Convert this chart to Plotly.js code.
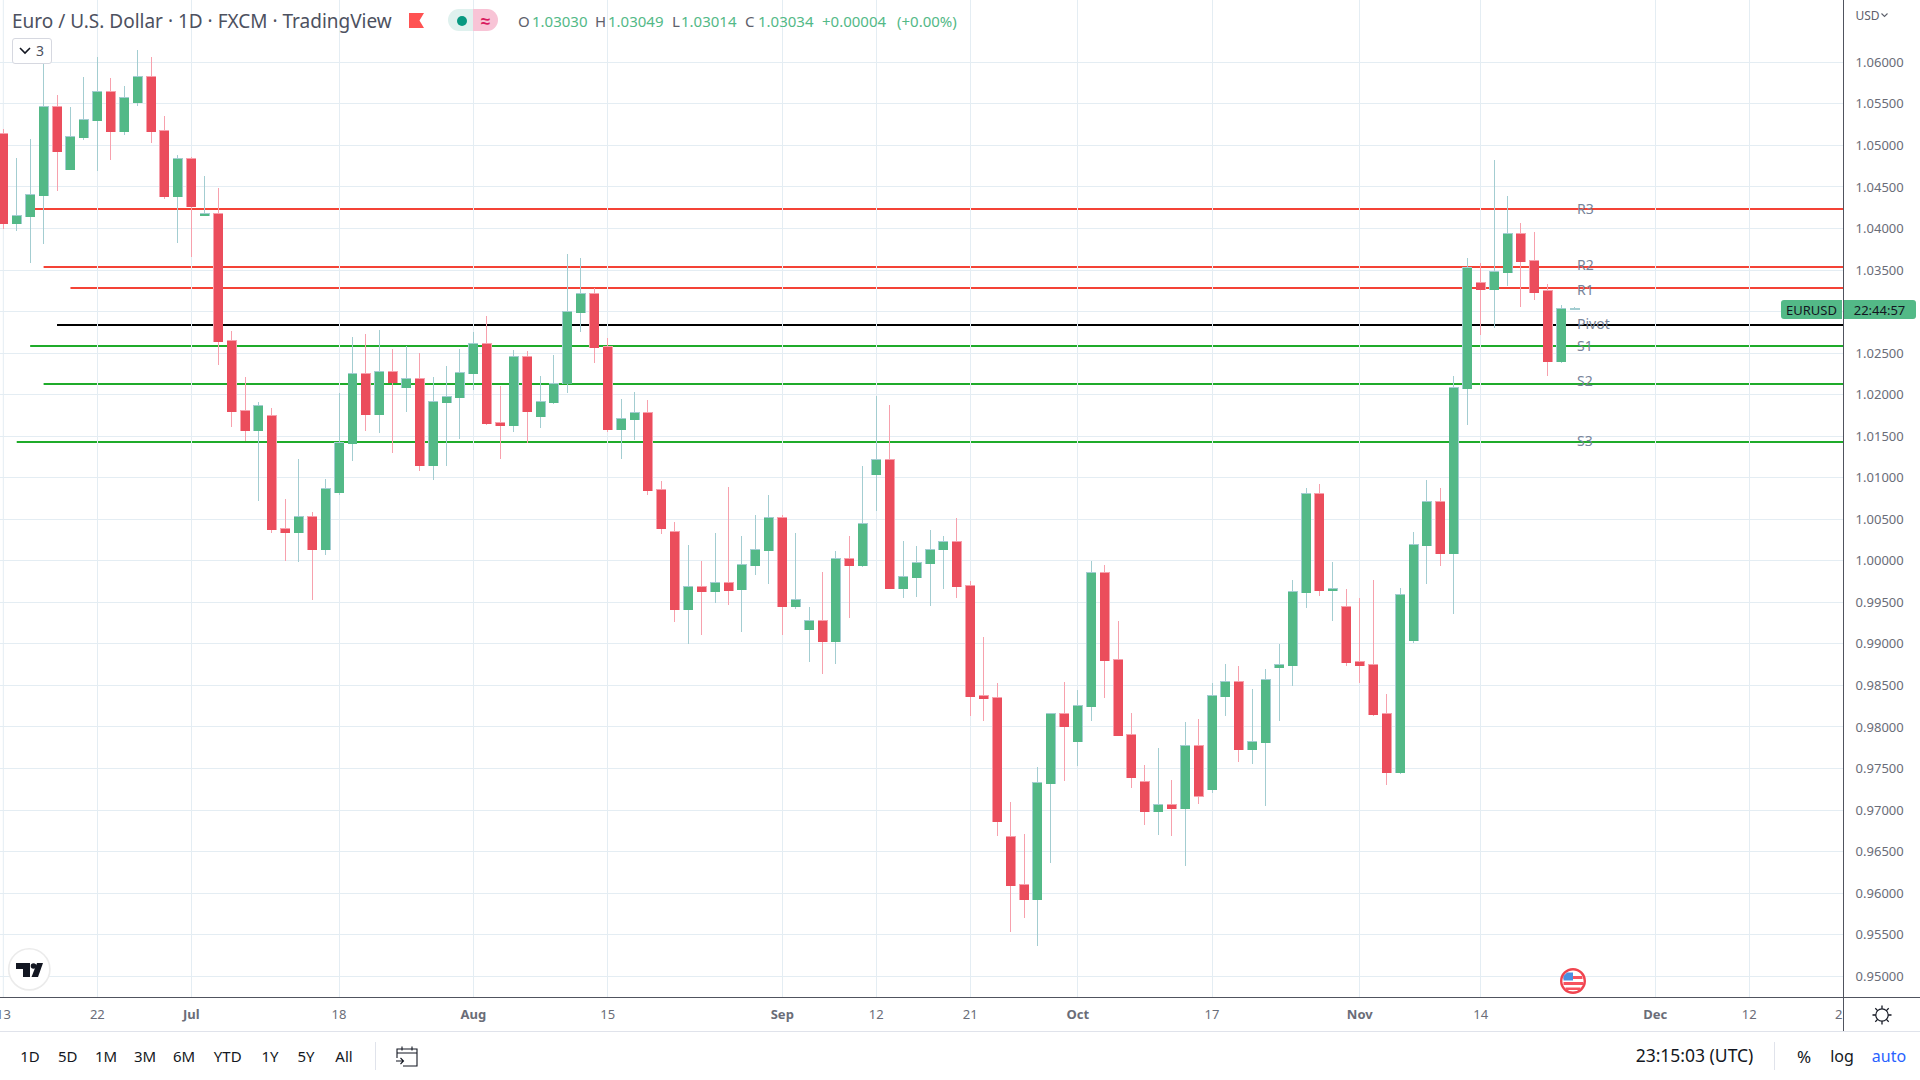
<!DOCTYPE html>
<html>
<head>
<meta charset="utf-8">
<title>EURUSD</title>
<script src="https://cdn.plot.ly/plotly-3.0.1.min.js"></script>
<style>
html,body{margin:0;padding:0;background:#fff;width:1920px;height:1080px;overflow:hidden}
#chart{position:absolute;left:0;top:0;width:1920px;height:1080px}
#chrome{position:absolute;left:0;top:0;width:1920px;height:1080px;pointer-events:none;font-family:"Noto Sans",sans-serif;color:#131722}
#chrome .t{position:absolute;white-space:nowrap;line-height:1;transform:translate(-50%,-50%)}
#chrome .l{position:absolute;white-space:nowrap;line-height:1;transform:translateY(-50%)}
#chrome .b{position:absolute}
#chrome svg{display:block}
.trace.boxes path{shape-rendering:crispEdges}
</style>
</head>
<body>
<div id="chart"></div>
<div id="chrome"></div>
<script>
// Daily EUR/USD candles
const opens = [1.05138,1.04055,1.04139,1.04392,1.05463,1.04705,1.05090,1.05294,1.05643,1.05162,1.05511,1.05824,1.05174,1.04380,1.04837,1.04151,1.04175,1.02647,1.01805,1.01564,1.01744,1.00385,1.00337,1.00529,1.00132,1.00818,1.01408,1.02250,1.01757,1.02274,1.02081,1.02189,1.01143,1.01901,1.01961,1.02250,1.02611,1.01660,1.01624,1.02454,1.01732,1.01901,1.02129,1.02984,1.03213,1.02574,1.01576,1.01696,1.01781,1.00854,1.00349,0.99411,0.99687,0.99627,0.99735,0.99651,0.99940,1.00120,1.00517,0.99447,0.99170,0.99278,0.99026,1.00024,0.99940,1.01035,1.01215,0.99663,0.99796,0.99964,1.00132,1.00229,0.99699,0.98376,0.98352,0.96679,0.96101,0.95921,0.97317,0.98160,0.97823,0.98244,0.99856,0.98809,0.97907,0.97341,0.96980,0.97064,0.97016,0.97775,0.97245,0.98364,0.98544,0.97726,0.97811,0.98712,0.98737,0.99615,1.00806,0.99639,0.99447,0.98785,0.98749,0.98160,0.97450,0.99038,1.00181,1.00710,1.00084,1.02069,1.03345,1.03261,1.03465,1.03935,1.03610,1.03249,1.02394,1.03030];
const highs = [1.05198,1.04849,1.05078,1.06088,1.05607,1.05463,1.05824,1.06064,1.05812,1.05715,1.06148,1.06064,1.05354,1.04885,1.04861,1.04632,1.04488,1.02767,1.02214,1.01913,1.01841,1.00746,1.01227,1.00590,1.00986,1.02021,1.02695,1.02731,1.02779,1.02550,1.02587,1.02502,1.02214,1.02346,1.02550,1.02755,1.02947,1.02105,1.02538,1.02526,1.02226,1.02478,1.03694,1.03646,1.03285,1.02683,1.01949,1.02033,1.01937,1.00962,1.00469,1.00193,1.00000,1.00337,1.00890,1.00301,1.00553,1.00794,1.00553,1.00337,0.99447,0.99868,1.00120,1.00301,1.01143,1.01985,1.01877,1.00241,1.00181,1.00373,1.00301,1.00517,0.99759,0.99086,0.98532,0.97100,0.96715,0.97522,0.98160,0.98544,0.98449,1.00000,0.99952,0.99278,0.98172,0.97546,0.97750,0.97365,0.98063,0.98099,0.98532,0.98761,0.98737,0.98460,0.98700,0.99002,0.99771,1.00878,1.00926,0.99988,0.99663,0.99555,0.99771,0.98400,0.99675,1.00349,1.00974,1.00878,1.02226,1.03646,1.03586,1.04825,1.04392,1.04067,1.03959,1.03333,1.03080,1.03049];
const lows = [1.03995,1.03971,1.03586,1.03815,1.04452,1.04705,1.05066,1.04693,1.04825,1.05126,1.05475,1.05030,1.04356,1.03827,1.03658,1.04151,1.02358,1.01612,1.01444,1.00722,1.00337,1.00000,0.99988,0.99531,1.00072,1.00794,1.01203,1.01564,1.01540,1.01299,1.01793,1.01083,1.00974,1.01143,1.01468,1.02057,1.01636,1.01227,1.01552,1.01420,1.01600,1.01889,1.02021,1.02755,1.02382,1.01552,1.01227,1.01456,1.00794,1.00325,0.99266,0.99002,0.99110,0.99495,0.99471,0.99146,0.99832,0.99723,0.99110,0.99423,0.98785,0.98640,0.98761,0.99314,0.99928,1.00602,0.99663,0.99555,0.99567,0.99459,0.99663,0.99555,0.98135,0.98075,0.96691,0.95536,0.95704,0.95368,0.96366,0.97353,0.97534,0.98075,0.98352,0.97895,0.97268,0.96823,0.96703,0.96691,0.96330,0.97076,0.97209,0.98135,0.97582,0.97558,0.97052,0.98075,0.98496,0.99435,0.99579,0.99278,0.98737,0.98532,0.98135,0.97305,0.97438,0.99014,0.99723,0.99940,0.99363,1.01636,1.02719,1.02803,1.03309,1.03056,1.03140,1.02226,1.02382,1.03014];
const closes = [1.04055,1.04151,1.04404,1.05463,1.04921,1.05102,1.05306,1.05643,1.05162,1.05571,1.05824,1.05162,1.04380,1.04837,1.04260,1.04175,1.02635,1.01793,1.01564,1.01865,1.00373,1.00337,1.00529,1.00132,1.00866,1.01420,1.02250,1.01757,1.02274,1.02141,1.02189,1.01143,1.01913,1.01973,1.02262,1.02611,1.01648,1.01624,1.02454,1.01793,1.01913,1.02129,1.02996,1.03213,1.02562,1.01576,1.01708,1.01781,1.00842,1.00385,0.99411,0.99687,0.99627,0.99735,0.99639,0.99952,1.00132,1.00517,0.99447,0.99531,0.99278,0.99026,1.00024,0.99940,1.00445,1.01215,0.99663,0.99808,0.99976,1.00132,1.00229,0.99687,0.98364,0.98340,0.96859,0.96089,0.95921,0.97329,0.98160,0.98003,0.98256,0.99856,0.98797,0.97895,0.97389,0.96980,0.97064,0.97016,0.97775,0.97167,0.98376,0.98544,0.97726,0.97823,0.98568,0.98749,0.99627,1.00806,0.99639,0.99663,0.98773,0.98737,0.98147,0.97450,0.99591,1.00193,1.00710,1.00084,1.02081,1.03525,1.03261,1.03477,1.03935,1.03598,1.03225,1.02394,1.03032,1.03034];

// Pivot levels
const levelNames = ["R3","R2","R1","Pivot","S1","S2","S3"];
const levelValues = [1.04235,1.03537,1.03284,1.02839,1.02586,1.02129,1.01431];
const levelStarts = [2,3,5,4,2,3,1];
const levelColors = ["#f44336","#f44336","#f44336","#000000","#1fab2a","#1fab2a","#1fab2a"];
const labelValues = [1.04235,1.03570,1.03270,1.02860,1.02595,1.02170,1.01450];

// Axes
const timeTickVals = [7,14,25,35,45,58,65,72,80,90,101,110,123,130];
const timeTickText = ["22","<b>Jul</b>","18","<b>Aug</b>","15","<b>Sep</b>","12","21","<b>Oct</b>","17","<b>Nov</b>","14","<b>Dec</b>","12"];
const priceTicks = [0.95,0.955,0.96,0.965,0.97,0.975,0.98,0.985,0.99,0.995,1.0,1.005,1.01,1.015,1.02,1.025,1.03,1.035,1.04,1.045,1.05,1.055,1.06];
const gridDays = [0];
const xRange = [-0.246,136.98];
const yRange = [0.9475,1.0675];

// Toolbar text
const rangeButtons = ["1D","5D","1M","3M","6M","YTD","1Y","5Y","All"];
const rangeButtonX = [30,67.7,106,145,184,227.7,270,306,344];

const FONT = '"Noto Sans",sans-serif';
const idx = opens.map((_, i) => i);
const bodyTop = opens.map((o, i) => Math.max(o, closes[i]));
const bodyBot = opens.map((o, i) => Math.min(o, closes[i]));

const wicks = {
  type:'candlestick', x:idx, open:opens, high:highs, low:lows, close:closes,
  increasing:{line:{color:'#a3cdd1',width:1},fillcolor:'#a3cdd1'},
  decreasing:{line:{color:'#f7a1ad',width:1},fillcolor:'#f7a1ad'},
  whiskerwidth:0, hoverinfo:'skip', showlegend:false
};
const bodies = {
  type:'candlestick', x:idx, open:opens, high:bodyTop, low:bodyBot, close:closes,
  increasing:{line:{color:'#53b987',width:0},fillcolor:'#53b987'},
  decreasing:{line:{color:'#eb4d5c',width:0},fillcolor:'#eb4d5c'},
  whiskerwidth:0, hoverinfo:'skip', showlegend:false
};

const shapes = levelNames.map((n,i)=>({
  type:'line', layer:'below', xref:'x', yref:'y',
  x0:levelStarts[i], x1:xRange[1], y0:levelValues[i], y1:levelValues[i],
  line:{color:levelColors[i],width:2}
}));
// gridline under the first, half-hidden "13" label
gridDays.forEach(d=>shapes.push({type:'line',layer:'below',xref:'x',yref:'paper',x0:d,x1:d,y0:0,y1:1,line:{color:'#e4edf3',width:1}}));
const annotations = levelNames.map((n,i)=>({
  text:n, x:117.05, y:labelValues[i], xref:'x', yref:'y', xanchor:'left', yanchor:'middle',
  showarrow:false, font:{family:FONT,size:14,color:'#78849a'}
}));
annotations.push({text:'2',xref:'paper',yref:'paper',x:1,y:-17/997,xanchor:'right',yanchor:'middle',
  showarrow:false,font:{family:FONT,size:13,color:'#6a6d78'},xshift:1});
annotations.push({text:'13',xref:'x',yref:'paper',x:0,y:-17/997,xanchor:'center',yanchor:'middle',
  showarrow:false,font:{family:FONT,size:13,color:'#6a6d78'}});

const layout = {
  width:1920, height:1080, paper_bgcolor:'#ffffff', plot_bgcolor:'#ffffff',
  margin:{l:0,r:77,t:0,b:83,pad:0}, showlegend:false, boxgap:0.33, boxgroupgap:0, boxmode:'overlay',
  title:{text:'Euro / U.S. Dollar · 1D · FXCM · TradingView', xref:'container', yref:'container', x:12/1920, y:1-21/1080,
    xanchor:'left', yanchor:'middle', font:{family:FONT,size:19,color:'#4d5160'}},
  xaxis:{type:'linear', range:xRange, rangeslider:{visible:false}, tickmode:'array', tickvals:timeTickVals, ticktext:timeTickText,
    showgrid:true, gridcolor:'#e4edf3', gridwidth:1, zeroline:false, showline:true, linecolor:'#50535e', linewidth:1,
    ticks:'outside', ticklen:5, tickcolor:'rgba(0,0,0,0)', tickfont:{family:FONT,size:13,color:'#6a6d78'}, tickangle:0},
  yaxis:{type:'linear', side:'right', range:yRange, tickmode:'array', tickvals:priceTicks, tickformat:'.5f',
    showgrid:true, gridcolor:'#e4edf3', gridwidth:1, zeroline:false, showline:true, linecolor:'#50535e', linewidth:1,
    ticks:'outside', ticklen:9, tickcolor:'rgba(0,0,0,0)', tickfont:{family:FONT,size:13,color:'#6a6d78'}},
  shapes:shapes, annotations:annotations
};

Plotly.newPlot('chart',[wicks,bodies],layout,{staticPlot:true,displayModeBar:false});

// Surrounding TradingView chrome
const c = document.getElementById('chrome');
function box(x,y,w,h,css){const d=document.createElement('div');d.className='b';
  d.style.cssText=`left:${x}px;top:${y}px;width:${w}px;height:${h}px;${css||''}`;c.appendChild(d);return d;}
function txt(cls,x,y,s,size,color,extra){const d=document.createElement('div');d.className=cls;d.textContent=s;
  d.style.cssText=`left:${x}px;top:${y}px;font-size:${size}px;color:${color};${extra||''}`;c.appendChild(d);return d;}
function svg(x,y,w,h,inner){const d=document.createElement('div');d.className='b';d.style.cssText=`left:${x}px;top:${y}px;width:${w}px;height:${h}px`;
  d.innerHTML=`<svg xmlns="http://www.w3.org/2000/svg" width="${w}" height="${h}" viewBox="0 0 ${w} ${h}">${inner}</svg>`;c.appendChild(d);}

// axis & separators
box(0,997,1920,1,'background:#50535e');
box(1843,0,1,1031,'background:#50535e');
box(0,1031,1920,1,'background:#e0e3eb');
box(375,1042,1,28,'background:#e0e3eb');
box(1774,1042,1,28,'background:#e0e3eb');

// legend row
svg(409,13,16,16,'<path d="M0 0H15L10.5 7.5L15 15H0Z" fill="#ff5252"/>');
box(448,9,25,22,'background:#dff1ee;border-radius:11px 0 0 11px');
box(473,9,25,22,'background:#f8c4d6;border-radius:0 11px 11px 0');
box(456.5,15.5,10,10,'background:#089981;border-radius:50%');
txt('t',485.5,20,'≈',17,'#d81b60','font-weight:700');
const ohlc=[['O',518,'#5d606b'],['1.03030',532,'#53b987'],['H',595,'#5d606b'],['1.03049',608,'#53b987'],['L',672,'#5d606b'],['1.03014',681,'#53b987'],['C',745,'#5d606b'],['1.03034',758,'#53b987'],['+0.00004',822,'#53b987'],['(+0.00%)',897,'#53b987']];
ohlc.forEach(o=>txt('l',o[1],21,o[0],15,o[2]));

// collapse button
box(11.5,38,38,24,'background:#fff;border:1px solid #d6d8e0;border-radius:3px');
svg(19,47,12,8,'<path d="M1 1L6 6L11 1" fill="none" stroke="#131722" stroke-width="1.6"/>');
txt('t',40,50.5,'3',14,'#4d5160');

// price scale
txt('l',1855.5,16,'USD',12,'#5d606b');
svg(1881,13,7,5,'<path d="M0.5 0.5L3.5 3.5L6.5 0.5" fill="none" stroke="#5d606b" stroke-width="1.1"/>');

// last price tags
box(1781,300,61,19,'background:#53b987;border-radius:3px 0 0 3px');
box(1843.5,300,72,19,'background:#53b987;border-radius:0 3px 3px 0');
txt('t',1811.5,310,'EURUSD',13,'#131722');
txt('t',1879.5,310,'22:44:57',13,'#131722');

// logo
svg(7,947,45,45,'<circle cx="22.3" cy="22.3" r="20.6" fill="#fff" stroke="#ebebeb" stroke-width="1.6"/><path d="M9 16H23V30H16V22H9Z" fill="#131722"/><circle cx="26.5" cy="19" r="2.8" fill="#131722"/><path d="M30 16H36L31 30H24.5Z" fill="#131722"/>');

// event flag
svg(1559,967,28,28,'<circle cx="14" cy="14" r="11.8" fill="#fff" stroke="#f0444f" stroke-width="2.4"/><path d="M4.5 9H23.5V12H4.5ZM4.5 15H24V18H4.5ZM6.5 20.5H21.5V23H6.5Z" fill="#f7525f"/><path d="M8 5.5H14V13.5H4.5V9Z" fill="#4a90e2"/>');

// gear
svg(1871,1004,22,22,'<circle cx="11" cy="11" r="6.2" fill="none" stroke="#131722" stroke-width="1.2"/><path d="M11 1.5V4.8M11 17.2V20.5M1.5 11H4.8M17.2 11H20.5M4.3 4.3L6.6 6.6M15.4 15.4L17.7 17.7M4.3 17.7L6.6 15.4M15.4 6.6L17.7 4.3" stroke="#131722" stroke-width="1.3"/>');

// bottom bar
rangeButtons.forEach((s,i)=>txt('t',rangeButtonX[i],1056,s,15,'#131722'));
svg(396,1045,22,22,'<path d="M1 8H21V21H7M1 8V4H21V8M6 1.5V5.5M16 1.5V5.5" fill="none" stroke="#131722" stroke-width="1.1"/><path d="M0 16H7M4.5 13L7.5 16L4.5 19" fill="none" stroke="#131722" stroke-width="1.1"/><path d="M1 8V13" stroke="#131722" stroke-width="1.1"/>');
txt('t',1694.5,1056,'23:15:03 (UTC)',17.5,'#131722');
txt('t',1804,1056,'%',17,'#131722');
txt('t',1842,1056,'log',16,'#131722');
txt('t',1889,1056,'auto',16,'#2962ff');
</script>
</body>
</html>
